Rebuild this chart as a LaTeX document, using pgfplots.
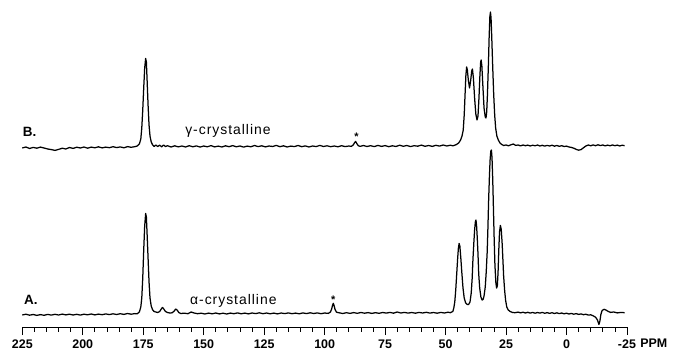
\documentclass[border=0pt]{standalone}
\usepackage{pgfplots}
\pgfplotsset{compat=1.18}
\usepackage{fontspec}
\setmainfont{Liberation Sans}
\newfontfamily\labfont[LetterSpace=7]{Liberation Sans}
\begin{document}
\begin{tikzpicture}
\useasboundingbox (-22.3bp,-23bp) rectangle (650.7bp,327bp);
\begin{axis}[
  scale only axis, width=604.7bp, height=327bp,
  x dir=reverse, xmin=-25, xmax=225, ymin=23, ymax=350,
  axis x line=bottom, axis y line=none, axis line style={-, line width=0.9bp},
  clip=false,
  xtick={-25,0,...,225}, minor x tick num=4,
  tick align=outside, major tick length=8bp, minor tick length=4.5bp,
  every tick/.style={black, line width=0.8bp},
  /pgf/number format/assume math mode=true,
  xticklabel style={font=\bfseries\fontsize{12.5}{13}\selectfont, inner sep=0pt, anchor=base, yshift=-13bp},
]
\addplot[black, mark=none, line width=1.25bp, line join=round] coordinates {
(225,202.0) (223.5,203.0) (222,201.5) (220.5,202.6) (219,201.8) (217.5,202.9) (216,202.0) (214.5,201.0) (213,200.4) (211.5,199.6)
(210,200.6) (208.5,201.8) (207,201.0) (205.5,202.5) (204,201.6) (202.5,202.8) (201,202.0) (199.5,203.0) (198,201.8) (196.5,202.9)
(195,202.2) (193.5,203.2) (192,202.1) (190.5,202.9) (189,202.3) (187.5,203.3) (186,202.4) (184.5,203.1) (183,202.2) (181.5,203.4)
(180,202.7) (178.5,203.3) (177.5,204) (176.6,206) (176.0,211) (175.6,222) (175.2,240) (174.8,262) (174.4,282) (174.0,291.5)
(173.7,288) (173.4,270) (173.0,245) (172.6,225) (172.2,214) (171.7,208) (171.1,205) (170.5,203.5) (169.8,205) (169.0,203.5)
(168.2,204.8) (167.4,203.2) (166.6,205) (165.8,203.5) (165,204.3) (163.5,203.0) (162,204.2) (160.5,203.1) (159,204.0) (157.5,203.0)
(156,204.3) (154.5,203.2) (153,204.1) (151.5,202.9) (150,204.0) (148.5,203.2) (147,204.4) (145.5,203.1) (144,203.9) (142.5,203.0)
(141,204.2) (139.5,203.3) (138,204.4) (136.5,203.2) (135,204.0) (133.5,202.9) (132,203.9) (130.5,203.2) (129,204.5) (127.5,203.4)
(126,204.2) (124.5,203.1) (123,204.0) (121.5,203.5) (120,204.6) (118.5,203.3) (117,204.2) (115.5,203.0) (114,203.9) (112.5,203.4)
(111,204.5) (109.5,203.3) (108,204.1) (106.5,203.0) (105,204.0) (103.5,203.4) (102,204.6) (100.5,203.5) (99,204.2) (97.5,203.3)
(96,204.0) (94.5,203.2) (93,204.3) (91.5,203.4) (90,204.0) (89,203.6) (88.2,205.0) (87.7,207.0) (87.2,208.6) (86.7,206.5)
(86.1,204.3) (85.3,203.6) (84,204.5) (82.5,203.5) (81,204.3) (79.5,203.4) (78,204.6) (76.5,203.6) (75,204.4) (73.5,203.3)
(72,204.2) (70.5,203.5) (69,204.8) (67.5,203.7) (66,204.5) (64.5,203.4) (63,204.3) (61.5,203.8) (60,204.9) (58.5,203.7)
(57,204.5) (55.5,203.6) (54,204.7) (52.5,203.9) (51,205.0) (49.5,204.0) (48,204.8) (47,204.2)
(46.5,204.5) (45.5,205.5) (44.6,207) (43.8,210) (43.2,214) (42.7,220) (42.3,235) (41.9,258) (41.6,275) (41.3,283)
(41.0,280) (40.6,270) (40.1,262) (39.6,270) (39.2,279) (38.9,281) (38.5,272) (38.0,252) (37.5,236) (37.0,230)
(36.6,234) (36.2,252) (35.8,275) (35.5,288) (35.3,290) (35.0,284) (34.6,265) (34.1,242) (33.6,233) (33.3,232)
(33.0,238) (32.7,255) (32.3,285) (32.0,312) (31.7,333) (31.45,338) (31.2,332) (30.9,312) (30.5,282) (30.1,255)
(29.7,235) (29.3,222) (28.8,214) (28.2,210) (27.5,207) (26.8,205.5) (26,204.5)
(25,205.0) (24,204.2) (23,205.2) (22,206.0) (21,204.6) (20,205.0) (19,204.1) (18,205.0) (17,204.3) (16,204.9)
(15,204.0) (14,204.8) (13,204.2) (12,205.0) (11,204.0) (10,204.7) (9,203.9) (8,204.6) (7,204.0) (6,204.8)
(5,203.8) (4,204.5) (3,203.7) (2,204.3) (1,203.5) (0,203.9) (-1,203.0) (-2,202.6) (-3,201.8) (-4,200.6)
(-5,199.8) (-6,200.4) (-7,202.2) (-8,204.0) (-9,205.0) (-10,204.2) (-11,205.1) (-12,204.3) (-13,205.2) (-14,204.4)
(-15,205.0) (-16,204.1) (-17,204.9) (-18,204.2) (-19,205.0) (-20,204.3) (-21,204.9) (-22,204.0) (-23,204.8) (-24,204.3)
};
\addplot[black, mark=none, line width=1.25bp, line join=round] coordinates {
(225,35.0) (223.5,35.8) (222,34.8) (220.5,35.5) (219,34.6) (217.5,35.4) (216,34.7) (214.5,35.6) (213,34.9) (211.5,35.7)
(210,35.0) (208.5,35.9) (207,35.1) (205.5,35.8) (204,35.0) (202.5,35.7) (201,34.9) (199.5,35.8) (198,35.2) (196.5,36.0)
(195,35.1) (193.5,35.9) (192,35.3) (190.5,36.1) (189,35.4) (187.5,36.2) (186,35.5) (184.5,36.3) (183,35.6) (181.5,36.5)
(180,35.8) (178.5,36.4) (177.5,36.2) (176.6,38) (176.0,43) (175.6,52) (175.2,72) (174.8,100) (174.4,124) (174.0,136.5)
(173.7,133) (173.4,116) (173.0,92) (172.6,68) (172.2,52) (171.7,44) (171.1,40) (170.5,38.5) (169.8,38) (169.0,37.5)
(168.2,38.5) (167.4,41.5) (167.0,42.5) (166.5,41) (165.8,38.5) (165,37.5) (164,37) (163,37.2) (162.2,39) (161.6,41)
(161.0,40) (160.3,37.5) (159.5,36.5) (158,36.8) (156.5,36.3) (155.2,38) (154,37) (152.5,36.3) (151,36.8)
(149.5,36.0) (148,36.9) (146.5,36.2) (145,37.0) (143.5,36.1) (142,36.8) (140.5,36.0) (139,36.9) (137.5,36.3) (136,37.1)
(134.5,36.2) (133,36.9) (131.5,36.1) (130,37.0) (128.5,36.4) (127,37.2) (125.5,36.3) (124,37.0) (122.5,36.2) (121,36.9)
(119.5,36.1) (118,37.0) (116.5,36.4) (115,37.1) (113.5,36.3) (112,36.9) (110.5,36.2) (109,37.1) (107.5,36.4) (106,37.2)
(104.5,36.5) (103,37.1) (101.5,36.3) (100,37.0) (98.5,36.6) (97.6,38.0) (97.1,41.0) (96.7,45.0) (96.4,46.7) (96.1,44.5)
(95.7,40.5) (95.1,37.8) (94,37.2) (92.5,36.5) (91,37.3) (89.5,36.6) (88,37.4) (86.5,36.7) (85,37.5) (83.5,36.8)
(82,37.4) (80.5,36.6) (79,37.3) (77.5,36.7) (76,37.5) (74.5,36.9) (73,37.6) (71.5,36.8) (70,38.0) (68.5,37.0)
(67,37.6) (65.5,36.9) (64,37.5) (62.5,36.8) (61,37.6) (59.5,37.0) (58,37.7) (56.5,36.9) (55,37.5) (53.5,36.8)
(52,37.6) (50.5,37.0) (49,37.8) (48,37.3)
(47,38.5) (46.6,42) (46.2,48) (45.8,60) (45.4,76) (45.0,92) (44.7,102) (44.4,106.5) (44.1,104) (43.7,92)
(43.3,78) (42.8,62) (42.3,52) (41.7,47) (41.0,45.5) (40.5,45.5) (39.9,48) (39.4,57) (39.0,72) (38.7,90)
(38.3,108) (38.0,120) (37.7,128) (37.45,130) (37.2,125) (36.9,112) (36.6,96) (36.3,76) (35.9,62) (35.4,53)
(34.9,50) (34.5,50.5) (34.1,54) (33.6,63) (33.2,78) (32.8,98) (32.5,122) (32.2,150) (31.9,172) (31.6,190)
(31.3,199) (31.05,200) (30.8,192) (30.5,170) (30.2,140) (29.9,110) (29.6,85) (29.2,67) (28.9,62) (28.6,64)
(28.3,78) (28.0,100) (27.7,118) (27.35,124.5) (27.0,121) (26.6,106) (26.3,90) (26.0,74) (25.6,60) (25.2,50)
(24.7,43) (24.1,40) (23.3,38.5) (22.3,37.5) (21.3,37.3)
(20,37.9) (19,37.1) (18,37.8) (17,37.0) (16,37.7) (15,36.9) (14,37.6) (13,36.8) (12,37.5) (11,36.9)
(10,37.6) (9,36.7) (8,37.4) (7,36.6) (6,37.3) (5,36.5) (4,37.2) (3,36.4) (2,37.0) (1,36.2)
(0,36.8) (-1,36.0) (-2,36.6) (-3,35.8) (-4,36.4) (-5,35.6) (-6,36.1) (-7,35.3) (-8,35.8) (-9,34.9)
(-10,35.2) (-11,34.2) (-12,32.8) (-12.8,30.0) (-13.4,25.5) (-13.8,29.0) (-14.2,35.5) (-14.7,39.5) (-15.5,40.7) (-16.3,40.0)
(-17.2,38.6) (-18.2,37.6) (-19.5,38.0) (-21,37.1) (-22.5,37.6) (-24,37.3)
};
\node[anchor=base west, inner sep=0pt, font=\bfseries\fontsize{13.5}{15}\selectfont] at (axis cs:224.8,213.3) {B.};
\node[anchor=base west, inner sep=0pt, font=\labfont\fontsize{14}{15}\selectfont] at (axis cs:157.7,215) {γ-crystalline};
\node[anchor=base west, inner sep=0pt, font=\bfseries\fontsize{13.5}{15}\selectfont] at (axis cs:224.3,46) {A.};
\node[anchor=base west, inner sep=0pt, font=\labfont\fontsize{14}{15}\selectfont] at (axis cs:155.7,46) {α-crystalline};
\node[anchor=base, inner sep=0pt, font=\bfseries\fontsize{11}{12}\selectfont] at (axis cs:86.8,209.5) {*};
\node[anchor=base, inner sep=0pt, font=\bfseries\fontsize{11}{12}\selectfont] at (axis cs:96.4,46.5) {*};
\node[anchor=base west, inner sep=0pt, font=\bfseries\fontsize{12.5}{13}\selectfont] at (axis cs:-30.4,2.3) {PPM};
\end{axis}
\end{tikzpicture}
\end{document}
